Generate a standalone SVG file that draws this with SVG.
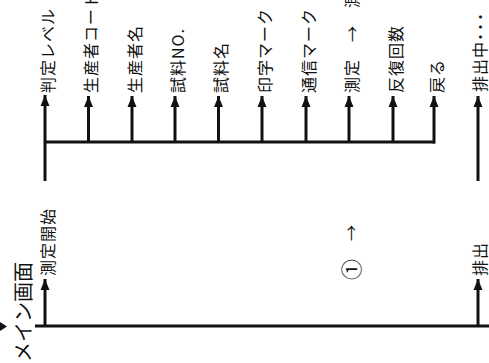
<svg xmlns="http://www.w3.org/2000/svg" width="489" height="363" viewBox="0 0 489 363">
<style>
.t{font-family:"Noto Sans CJK JP","Noto Sans",sans-serif;font-size:16px;letter-spacing:1px;fill:#111;dominant-baseline:central}
.big{font-size:20px;letter-spacing:0px}
.ln{stroke:#111;stroke-width:3;fill:none}
.ar{stroke:#111;stroke-width:3;fill:none;marker-end:url(#ah)}
</style>
<defs>
<marker id="ah" markerUnits="userSpaceOnUse" markerWidth="10" markerHeight="12" viewBox="0 0 10 12" refX="5" refY="0" orient="0">
<polygon points="5,0 9.5,11 0.5,11" fill="#111"/>
</marker>
</defs>
<rect width="489" height="363" fill="#fff"/>
<g id="connectors">
<line class="ln" x1="35" y1="326" x2="489" y2="326"/>
<polygon points="0,322 7,326.5 0,331" fill="#111"/>
<line class="ar" x1="45" y1="326" x2="45" y2="279"/>
<line class="ar" x1="478" y1="326" x2="478" y2="279"/>
<line class="ar" x1="45" y1="181" x2="45" y2="95"/>
<line class="ln" x1="45" y1="142" x2="435" y2="142"/>
<line class="ar" x1="88.5" y1="142" x2="88.5" y2="96"/>
<line class="ar" x1="132" y1="142" x2="132" y2="96"/>
<line class="ar" x1="175" y1="142" x2="175" y2="96"/>
<line class="ar" x1="218.5" y1="142" x2="218.5" y2="96"/>
<line class="ar" x1="262" y1="142" x2="262" y2="96"/>
<line class="ar" x1="306" y1="142" x2="306" y2="96"/>
<line class="ar" x1="349" y1="142" x2="349" y2="96"/>
<line class="ar" x1="393" y1="142" x2="393" y2="96"/>
<line class="ar" x1="434" y1="143.5" x2="434" y2="96"/>
<line class="ar" x1="478" y1="181" x2="478" y2="96"/>
</g>
<g id="main"><text class="t big" transform="translate(22,362) rotate(-90)">メイン画面</text></g>
<g id="n-start"><text class="t" transform="translate(46.5,276) rotate(-90)">測定開始</text></g>
<g id="n-circ"><text class="t" transform="translate(350,280) rotate(-90)"><tspan font-size="21">①</tspan>　→</text></g>
<g id="n-out"><text class="t" transform="translate(478.5,276) rotate(-90)">排出</text></g>
<g id="n1"><text class="t" transform="translate(46.5,93) rotate(-90)">判定レベル</text></g>
<g id="n2"><text class="t" transform="translate(90,93) rotate(-90)">生産者コード</text></g>
<g id="n3"><text class="t" transform="translate(133.5,93) rotate(-90)">生産者名</text></g>
<g id="n4"><text class="t" transform="translate(176.5,93) rotate(-90)">試料NO.</text></g>
<g id="n5"><text class="t" transform="translate(220,93) rotate(-90)">試料名</text></g>
<g id="n6"><text class="t" transform="translate(263.5,93) rotate(-90)">印字マーク</text></g>
<g id="n7"><text class="t" transform="translate(307.5,93) rotate(-90)">通信マーク</text></g>
<g id="n8"><text class="t" transform="translate(350.5,93) rotate(-90)">測定　→　測定</text></g>
<g id="n9"><text class="t" transform="translate(394.5,93) rotate(-90)">反復回数</text></g>
<g id="n10"><text class="t" transform="translate(435.5,93) rotate(-90)">戻る</text></g>
<g id="n11"><text class="t" transform="translate(478.5,92) rotate(-90)">排出中<tspan font-weight="bold" letter-spacing="2">･･･</tspan></text></g>
</svg>
